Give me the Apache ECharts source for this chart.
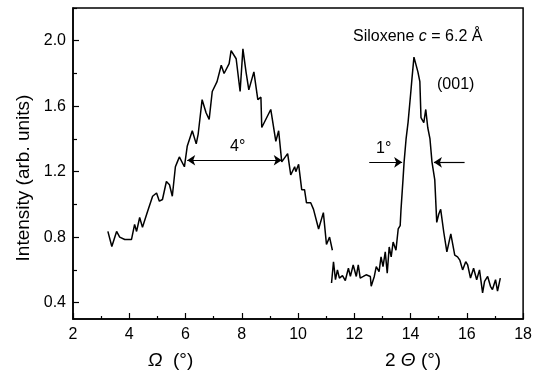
<!DOCTYPE html>
<html><head><meta charset="utf-8">
<script src="https://cdn.jsdelivr.net/npm/echarts@6/dist/echarts.min.js"></script>
<style>html,body{margin:0;padding:0;background:#fff}#c{width:535px;height:376px}</style>
</head><body><div id="c"></div>
<script>
// Ω scan
const omegaX = [3.24,3.38,3.55,3.66,3.84,4.08,4.19,4.26,4.37,4.47,4.65,4.83,4.97,5.07,5.18,5.32,5.43,5.53,5.64,5.71,5.78,5.85,5.96,6.06,6.24,6.38,6.45,6.59,6.73,6.84,6.95,7.12,7.27,7.37,7.55,7.62,7.80,7.94,8.04,8.15,8.25,8.43,8.57,8.68,8.71,9.03,9.21,9.31,9.42,9.63,9.74,9.88,9.92,10.02,10.13,10.23,10.30,10.45,10.55,10.73,10.90,11.01,11.12,11.22];
const omegaY = [0.835,0.743,0.835,0.80,0.786,0.786,0.878,0.835,0.92,0.86,0.957,1.05,1.07,1.02,1.03,1.14,1.12,1.05,1.23,1.26,1.29,1.28,1.23,1.355,1.45,1.37,1.43,1.64,1.56,1.52,1.69,1.75,1.85,1.80,1.86,1.94,1.89,1.69,1.95,1.81,1.70,1.81,1.64,1.655,1.47,1.58,1.385,1.45,1.26,1.31,1.18,1.23,1.20,1.245,1.09,1.09,1.01,1.01,0.97,0.85,0.95,0.755,0.80,0.72];
// 2Θ scan
const thetaX = [11.19,11.26,11.33,11.40,11.47,11.58,11.68,11.79,11.86,11.96,12.07,12.14,12.21,12.32,12.42,12.57,12.60,12.71,12.78,12.88,12.95,13.02,13.10,13.17,13.24,13.31,13.38,13.48,13.56,13.63,13.66,13.73,13.77,13.84,13.91,14.01,14.05,14.12,14.19,14.26,14.33,14.37,14.47,14.54,14.61,14.69,14.76,14.86,14.93,15.00,15.07,15.18,15.29,15.43,15.57,15.67,15.75,15.85,15.96,16.03,16.13,16.24,16.35,16.45,16.56,16.63,16.74,16.84,16.91,17.02,17.09,17.19];
const thetaY = [0.52,0.65,0.54,0.60,0.55,0.565,0.535,0.61,0.56,0.63,0.56,0.63,0.55,0.56,0.57,0.56,0.50,0.56,0.62,0.59,0.68,0.62,0.71,0.58,0.74,0.68,0.77,0.72,0.85,0.87,0.97,1.15,1.26,1.40,1.50,1.69,1.77,1.90,1.89,1.81,1.75,1.53,1.50,1.58,1.47,1.40,1.26,1.15,0.89,0.94,0.97,0.83,0.71,0.82,0.69,0.68,0.66,0.60,0.65,0.63,0.55,0.61,0.54,0.60,0.46,0.53,0.56,0.50,0.48,0.54,0.47,0.55];
// ticks
const yMajorTicks = [0.4,0.8,1.2,1.6,2.0];
const yMinorTicks = [0.6,1.0,1.4,1.8,2.2];
// annotations (data coords)
const fwhmOmega = [6.06, 9.42, 1.27];
const fwhmThetaLeft = [12.53, 13.70, 1.257];
const fwhmThetaRight = [15.92, 14.83, 1.257];

const FONT = 'Liberation Sans, Arial, sans-serif';
const chart = echarts.init(document.getElementById('c'), null, {renderer: 'canvas'});
const zip = (xs, ys) => xs.map((x, i) => [x, ys[i]]);
chart.setOption({
  animation: false,
  backgroundColor: '#fff',
  textStyle: {fontFamily: FONT, color: '#000'},
  grid: {left: 73, right: 9, top: 8, bottom: 57, show: true, borderColor: '#000', borderWidth: 1.5, backgroundColor: 'transparent'},
  xAxis: {
    type: 'value', min: 2, max: 18, interval: 2,
    axisLine: {onZero: false, lineStyle: {color: '#000', width: 1.5}},
    axisTick: {inside: true, length: 6, lineStyle: {color: '#000', width: 1.2}},
    minorTick: {show: true, splitNumber: 2, length: 3, lineStyle: {color: '#000', width: 1.2}},
    axisLabel: {color: '#000', fontSize: 16, fontFamily: FONT, margin: 8},
    splitLine: {show: false}
  },
  yAxis: [{
    type: 'value', min: 0.3, max: 2.2,
    axisLine: {show: true, onZero: false, lineStyle: {color: '#000', width: 1.5}},
    axisTick: {show: true, inside: true, length: 6, customValues: yMajorTicks, lineStyle: {color: '#000', width: 1.2}},
    axisLabel: {color: '#000', fontSize: 16, fontFamily: FONT, margin: 7, customValues: yMajorTicks, formatter: v => v.toFixed(1)},
    splitLine: {show: false}
  }, {
    type: 'value', min: 0.3, max: 2.2, position: 'left', offset: 0,
    axisLine: {show: false},
    axisTick: {show: true, inside: true, length: 4, customValues: yMinorTicks, lineStyle: {color: '#000', width: 1.2}},
    axisLabel: {show: false},
    splitLine: {show: false}
  }],
  series: [
    {type: 'line', data: zip(omegaX, omegaY), symbol: 'none', lineStyle: {color: '#000', width: 1.5},
     markLine: {
       symbol: ['arrow', 'arrow'], symbolSize: 8, silent: true, animation: false,
       lineStyle: {color: '#000', width: 1.2, type: 'solid'}, label: {show: false},
       data: [[{coord: [fwhmOmega[0], fwhmOmega[2]]}, {coord: [fwhmOmega[1], fwhmOmega[2]]}]]
     }},
    {type: 'line', data: zip(thetaX, thetaY), symbol: 'none', lineStyle: {color: '#000', width: 1.5},
     markLine: {
       symbol: ['none', 'arrow'], symbolSize: 8, silent: true, animation: false,
       lineStyle: {color: '#000', width: 1.2, type: 'solid'}, label: {show: false},
       data: [
         [{coord: [fwhmThetaLeft[0], fwhmThetaLeft[2]]}, {coord: [fwhmThetaLeft[1], fwhmThetaLeft[2]]}],
         [{coord: [fwhmThetaRight[0], fwhmThetaRight[2]]}, {coord: [fwhmThetaRight[1], fwhmThetaRight[2]]}]
       ]
     }}
  ],
  graphic: [
    {type: 'text', left: 353, top: 29, style: {text: 'Siloxene {i|c}{n| = 6.2 Å}', fontSize: 16, fontFamily: FONT, fill: '#000',
      rich: {i: {fontStyle: 'italic', fontSize: 16, fontFamily: FONT}, n: {fontSize: 16, fontFamily: FONT}}}},
    {type: 'text', left: 437, top: 77, style: {text: '(001)', fontSize: 16, fontFamily: FONT, fill: '#000'}},
    {type: 'text', left: 376, top: 141, style: {text: '1°', fontSize: 16, fontFamily: FONT, fill: '#000'}},
    {type: 'text', left: 230, top: 139, style: {text: '4°', fontSize: 16, fontFamily: FONT, fill: '#000'}},
    {type: 'text', x: 24, y: 178, rotation: Math.PI / 2,
      style: {text: 'Intensity (arb. units)', fontSize: 19, fontFamily: FONT, fill: '#000', align: 'center', verticalAlign: 'middle'}},
    {type: 'text', left: 148, top: 351, style: {text: '{i|Ω}  (°)', fontSize: 19, fontFamily: FONT, fill: '#000',
      rich: {i: {fontStyle: 'italic', fontSize: 19, fontFamily: FONT}}}},
    {type: 'text', left: 385, top: 351, style: {text: '2 {i|Θ} (°)', fontSize: 19, fontFamily: FONT, fill: '#000',
      rich: {i: {fontStyle: 'italic', fontSize: 19, fontFamily: FONT}}}}
  ]
});
</script>
</body></html>
